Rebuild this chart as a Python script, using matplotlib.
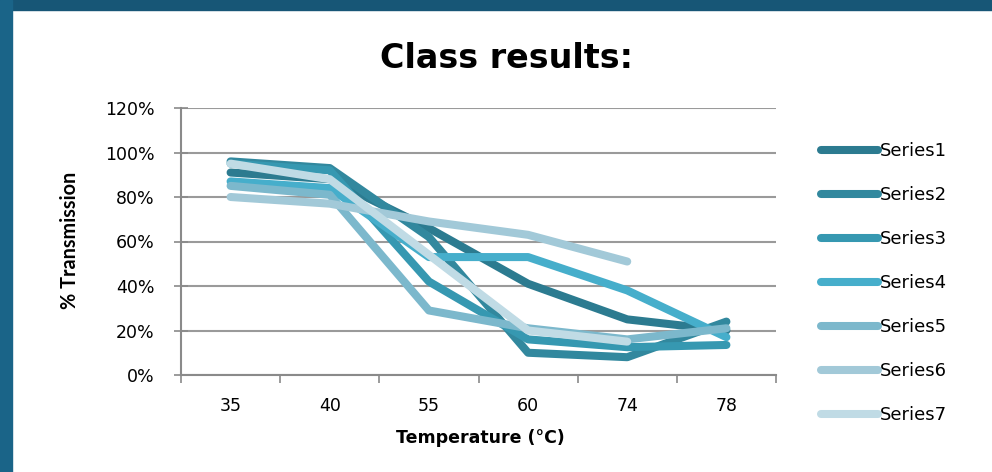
import numpy as np
import matplotlib
matplotlib.use("Agg")
import matplotlib.pyplot as plt
from matplotlib.patches import Rectangle

plt.rcParams['font.family'] = ['DejaVu Sans']

# temperature categories and % transmission for each group
temps = ['35', '40', '55', '60', '74', '78']
series1 = [91, 88, 66, 41, 25, 20]
series2 = [96, 93, 62, 10, 8, 24]
series3 = [95, 92, 42, 16, 12.5, 13.5]
series4 = [87, 84, 53, 53, 38, 17]
series5 = [85, 81, 29, 21, 16, 21]
series6 = [80, 77, 69, 63, 51, np.nan]
series7 = [95, 88, 54, 20, 15, np.nan]
names = ['Series1', 'Series2', 'Series3', 'Series4', 'Series5', 'Series6', 'Series7']
colors = ['#2c7b90', '#32889e', '#3698b1', '#46aecb', '#7cb8cc', '#a2c9d8', '#c0dbe5']

W, H = 992, 472
fig = plt.figure(figsize=(W / 100, H / 100), dpi=100)
fig.patch.set_facecolor('white')

# slide frame: dark blue band along the top and left edge
fig.add_artist(Rectangle((0, 1 - 10/H), 1, 10/H, transform=fig.transFigure,
                         color='#175676', zorder=0))
fig.add_artist(Rectangle((0, 0), 12/W, 1, transform=fig.transFigure,
                         color='#1a6488', zorder=0))

ax = fig.add_axes([181/W, 1 - 375/H, (776 - 181)/W, (375 - 108)/H])
x = np.arange(len(temps))
data = [series1, series2, series3, series4, series5, series6, series7]
for vals, name, c in zip(data, names, colors):
    ax.plot(x, vals, color=c, lw=5.8, label=name,
            solid_capstyle='round', solid_joinstyle='round')

ax.set_xlim(-0.5, len(temps) - 0.5)
ax.set_ylim(0, 120)
ax.set_yticks(np.arange(0, 121, 20))
ax.set_yticklabels([f'{v}%' for v in range(0, 121, 20)], fontsize=12.5)
ax.yaxis.grid(True, color='#9a9a9a', lw=1.5)
ax.set_axisbelow(True)

# category ticks sit on the boundaries, labels in the middle
ax.set_xticks(np.arange(-0.5, len(temps)), minor=False)
ax.set_xticklabels([])
ax.set_xticks(x, minor=True)
ax.set_xticklabels(temps, minor=True, fontsize=12.5)
ax.tick_params(axis='x', which='major', length=6, color='#8a8a8a', width=1.2)
ax.tick_params(axis='x', which='minor', length=0, pad=16)
ax.tick_params(axis='y', direction='inout', length=10, color='#8a8a8a', width=1.2, pad=14)

for side in ['top', 'right']:
    ax.spines[side].set_visible(False)
for side in ['left', 'bottom']:
    ax.spines[side].set_color('#8a8a8a')
    ax.spines[side].set_linewidth(1.5)

ax.set_xlabel('Temperature (°C)', fontsize=12.5, fontweight='bold')
ax.xaxis.set_label_coords(0.5025, (375 - 429) / 267)
ax.set_ylabel('% Transmission', fontsize=14.3, fontweight='bold',
              family=['Lato', 'DejaVu Sans'])
ax.yaxis.set_label_coords((80 - 181) / 595, 0.506)

fig.text(506/W, 1 - 58/H, 'Class results:', ha='center', va='center',
         fontsize=24, fontweight='bold')

leg = fig.legend(loc='upper left', bbox_to_anchor=(821/W, 1 - 142/H),
                 frameon=False, fontsize=13, handlelength=3.15,
                 handletextpad=0.1, labelspacing=1.44, borderpad=0, borderaxespad=0)

fig.savefig('out.png', dpi=100, facecolor='white')
